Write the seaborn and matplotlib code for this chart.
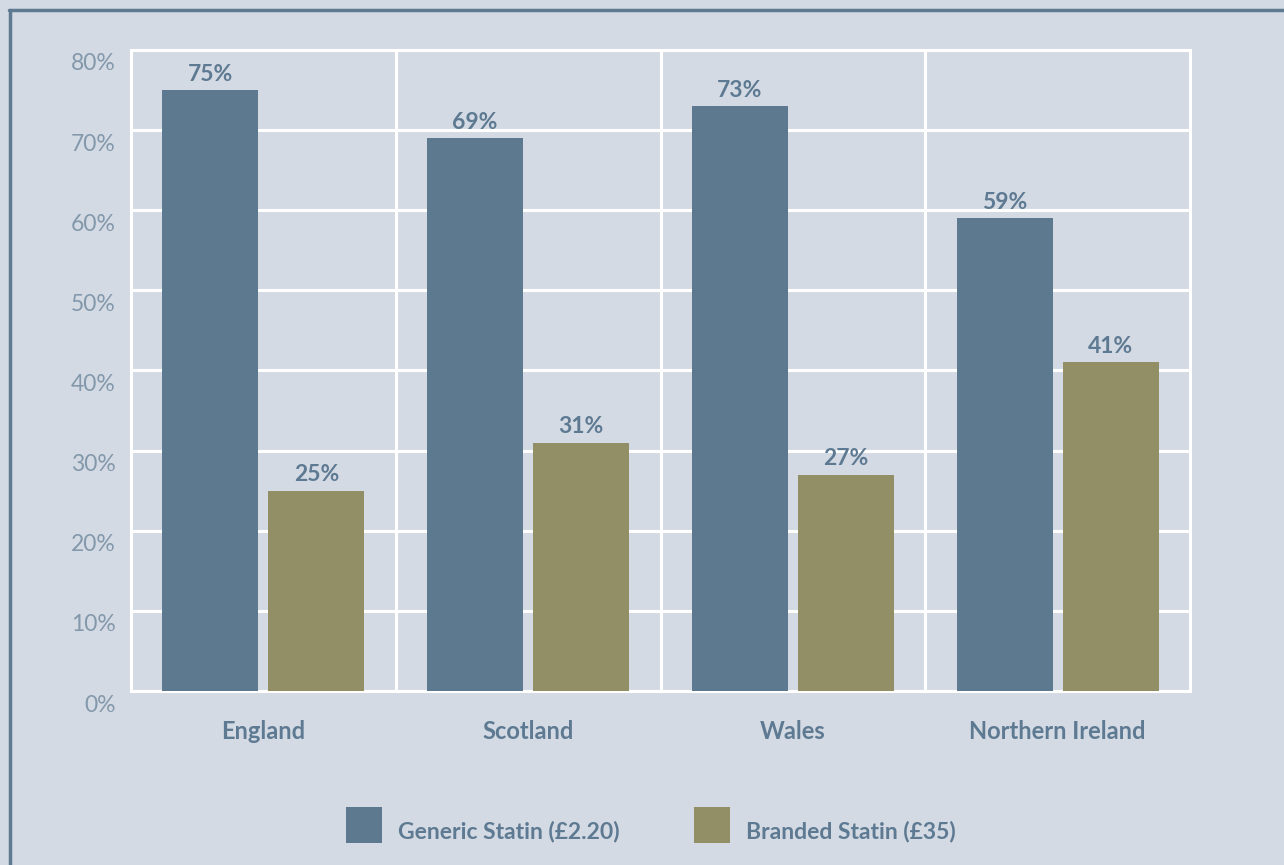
import matplotlib
matplotlib.use("Agg")
import matplotlib.pyplot as plt
import matplotlib.transforms as mtransforms
from matplotlib.lines import Line2D
import seaborn as sns
import pandas as pd

regions = ["England", "Scotland", "Wales", "Northern Ireland"]
generic = [75, 69, 73, 59]
branded = [25, 31, 27, 41]
series_names = ["Generic Statin (£2.20)", "Branded Statin (£35)"]
yticks = [0, 10, 20, 30, 40, 50, 60, 70, 80]

BG = "#d3dae3"
C_GEN = "#5d7990"
C_BRA = "#928e65"
TXT = "#5e7a92"
TICK = "#8398ab"

df = pd.DataFrame({
    "region": regions * 2,
    "value": generic + branded,
    "series": [series_names[0]] * len(regions) + [series_names[1]] * len(regions),
})

sns.set_theme(style="white")
plt.rcParams["font.family"] = ["Lato", "DejaVu Sans"]

fig = plt.figure(figsize=(12.84, 8.65), dpi=100, facecolor=BG)
ax = fig.add_axes([131/1284, 1 - 691/865, (1190-131)/1284, (691-50)/865])
ax.set_facecolor(BG)

sns.barplot(data=df, x="region", y="value", hue="series",
            palette=[C_GEN, C_BRA], width=0.8, gap=0.093, saturation=1,
            linewidth=0, ax=ax, legend=True, zorder=3)

ax.set_xlim(-0.5, len(regions) - 0.5)
ax.set_ylim(0, 80)
ax.set_yticks(yticks)
ax.set_yticklabels([f"{v}%" for v in yticks], fontsize=16.5, color=TICK, fontweight="normal")
ax.set_xticks(range(len(regions)))
ax.set_xticklabels(regions, fontsize=17, color=TXT, fontweight="bold")
ax.set_xticks([i - 0.5 for i in range(len(regions) + 1)], minor=True)
ax.tick_params(axis="x", which="both", length=0, pad=21)
ax.tick_params(axis="y", length=0, pad=11)
ax.set_xlabel("")
ax.set_ylabel("")

ax.grid(False)
ax.grid(True, axis="y", which="major", color="white", linewidth=2.2, zorder=0)
ax.grid(True, axis="x", which="minor", color="white", linewidth=2.2, zorder=0)
ax.set_axisbelow(True)
for s in ax.spines.values():
    s.set_visible(True)
    s.set_color("white")
    s.set_linewidth(2.2)

# shift y tick labels down as in reference
off = mtransforms.ScaledTranslation(0, -12/100, fig.dpi_scale_trans)
for lab in ax.get_yticklabels():
    lab.set_transform(lab.get_transform() + off)

for cont in ax.containers:
    ax.bar_label(cont, labels=[f"{int(b.get_height())}%" for b in cont],
                 padding=4, fontsize=16.5, fontweight="bold", color=TXT)

handles, labels = ax.get_legend_handles_labels()
if ax.legend_:
    ax.legend_.remove()
leg = fig.legend(handles, labels, loc="center", bbox_to_anchor=(651/1284, 1 - 825/865),
                 ncol=2, frameon=False, handlelength=1.57, handleheight=2.04,
                 handletextpad=0.7, columnspacing=3.25, labelcolor=TXT,
                 prop={"weight": "bold", "size": 16.5})
toff = mtransforms.ScaledTranslation(0, -6/100, fig.dpi_scale_trans)
for t in leg.get_texts():
    t.set_transform(t.get_transform() + toff)

# frame border (top and left)
fig.add_artist(Line2D([10/1284, 10/1284], [0, 1 - 10/865], transform=fig.transFigure,
                      color="#5e7a92", linewidth=2.5))
fig.add_artist(Line2D([9/1284, 1], [1 - 10/865, 1 - 10/865], transform=fig.transFigure,
                      color="#5e7a92", linewidth=2.5))

fig.savefig("out.png", dpi=100, facecolor=BG)
